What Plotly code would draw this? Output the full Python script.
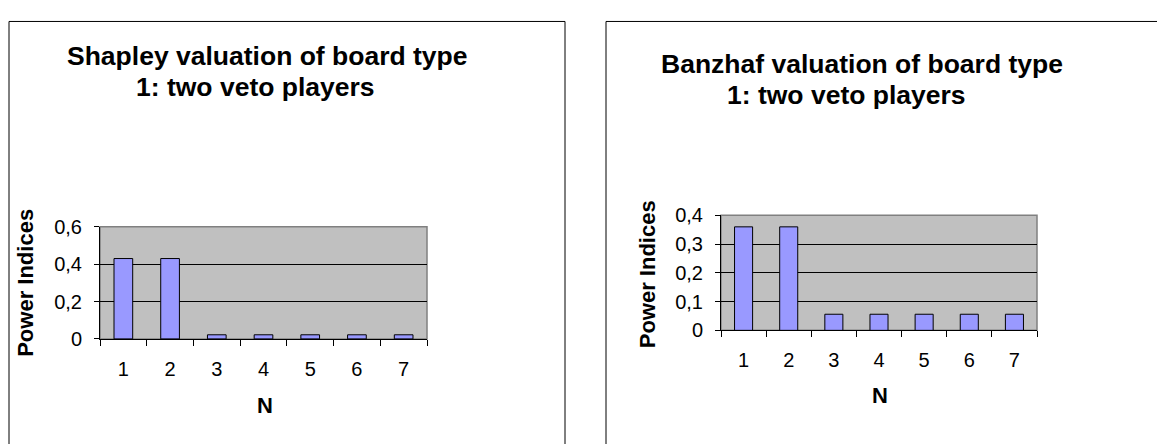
import plotly.graph_objects as go

# data
players = ["1", "2", "3", "4", "5", "6", "7"]
shapley = [0.43, 0.43, 0.022, 0.022, 0.022, 0.022, 0.022]
banzhaf = [0.36, 0.36, 0.056, 0.056, 0.056, 0.056, 0.056]

shapley_title = ["Shapley valuation of board type", "1: two veto players"]
banzhaf_title = ["Banzhaf valuation of board type", "1: two veto players"]

_W, _H = 1157, 444
_BAR = "#9999FF"
_PLOT_BG = "#C0C0C0"
_FONT = "Arial, Liberation Sans, sans-serif"


def px(x):
    # window pixel -> paper fraction
    return x / _W


def py(y):
    return 1 - y / _H


fig = go.Figure()
fig.add_trace(go.Bar(x=players, y=shapley, xaxis="x", yaxis="y",
                     marker=dict(color=_BAR, line=dict(color="black", width=1))))
fig.add_trace(go.Bar(x=players, y=banzhaf, xaxis="x2", yaxis="y2",
                     marker=dict(color=_BAR, line=dict(color="black", width=1))))

xcommon = dict(type="category", showgrid=False, zeroline=False,
               showline=True, linecolor="black", linewidth=1,
               ticks="outside", tickson="boundaries", ticklen=6, tickcolor="black",
               tickfont=dict(size=20, color="black"), ticklabelstandoff=12,
               fixedrange=True)
ycommon = dict(showgrid=True, gridcolor="black", gridwidth=1, zeroline=False,
               showline=True, linecolor="black", linewidth=1,
               ticks="outside", ticklen=5, tickcolor="black",
               tickfont=dict(size=20, color="black"), ticklabelstandoff=8,
               fixedrange=True)

fig.update_layout(
    width=_W, height=_H,
    margin=dict(l=0, r=0, t=0, b=0),
    paper_bgcolor="white",
    plot_bgcolor=_PLOT_BG,
    separators=",.",
    bargap=0.6,
    showlegend=False,
    font=dict(family=_FONT, color="black"),
    xaxis=dict(xcommon, domain=[px(100), px(427)], anchor="y"),
    yaxis=dict(ycommon, domain=[py(345), py(227)], anchor="x",
               range=[0, 0.6], dtick=0.2),
    xaxis2=dict(xcommon, domain=[px(721), px(1037)], anchor="y2"),
    yaxis2=dict(ycommon, domain=[py(336), py(215)], anchor="x2",
                range=[0, 0.4], dtick=0.1),
)

# chart frames (run off the page at right / bottom like the reference)
for x0, x1 in [(9, 565), (606, 1190)]:
    fig.add_shape(type="rect", xref="paper", yref="paper",
                  x0=px(x0), x1=px(x1), y0=py(480), y1=py(11),
                  line=dict(color="black", width=1), fillcolor="rgba(0,0,0,0)")

# grey plot-area border (top / right)
for xr, yr in [("x", "y"), ("x2", "y2")]:
    fig.add_shape(type="rect", xref=f"{xr} domain", yref=f"{yr} domain",
                  x0=0, x1=1, y0=0, y1=1, layer="below",
                  line=dict(color="#808080", width=1.5))

bold = dict(family=_FONT, size=22, color="black")
title_font = dict(family=_FONT, size=26.5, color="black")
annots = [
    (267, 47, f"<b>{shapley_title[0]}</b>", title_font, 0),
    (255, 80, f"<b>{shapley_title[1]}</b>", title_font, 0),
    (862, 56, f"<b>{banzhaf_title[0]}</b>", title_font, 0),
    (846, 88, f"<b>{banzhaf_title[1]}</b>", title_font, 0),
    (26, 286, "<b>Power Indices</b>", bold, -90),
    (647, 277, "<b>Power Indices</b>", bold, -90),
    (265, 415, "<b>N</b>", bold, 0),
    (880, 405, "<b>N</b>", bold, 0),
]
for x, y, text, font, angle in annots:
    fig.add_annotation(x=px(x), y=py(y), xref="paper", yref="paper",
                       text=text, showarrow=False, font=font, textangle=angle,
                       xanchor="center", yanchor="middle", align="center")

# drop the default 8px body margin so figure pixels line up with the window
fig.write_html("out.html", config={"displayModeBar": False},
               post_script="document.body.style.margin = '0';")
